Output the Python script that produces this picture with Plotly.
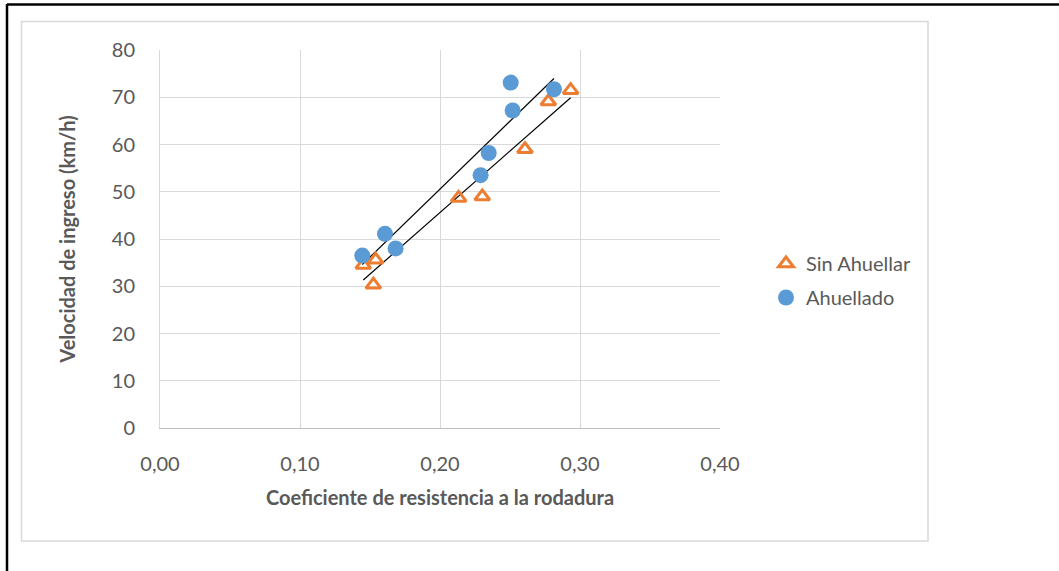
import numpy as np
import plotly.graph_objects as go

# Data
sin_x = [0.1452, 0.1540, 0.1524, 0.2133, 0.2302, 0.2607, 0.2774, 0.2933]
sin_y = [34.5, 35.6, 30.3, 48.7, 49.0, 59.0, 69.1, 71.5]
ahu_x = [0.1445, 0.1607, 0.1683, 0.2290, 0.2348, 0.2505, 0.2519, 0.2814]
ahu_y = [36.5, 41.1, 38.0, 53.5, 58.2, 73.1, 67.2, 71.7]

x_ticks = [0.0, 0.1, 0.2, 0.3, 0.4]
y_ticks = [0, 10, 20, 30, 40, 50, 60, 70, 80]

ORANGE = "#ED7D31"
BLUE = "#5B9BD5"
FONT = "Lato"
TXT = "#595959"

fig = go.Figure()

def trend(xs, ys):
    m, b = np.polyfit(xs, ys, 1)
    x0, x1 = min(xs), max(xs)
    return [x0, x1], [m * x0 + b, m * x1 + b]

tx, ty = trend(ahu_x, ahu_y)
fig.add_trace(go.Scatter(x=tx, y=ty, mode="lines", line=dict(color="black", width=1.2),
                         showlegend=False, hoverinfo="skip"))
tx, ty = trend(sin_x, sin_y)
fig.add_trace(go.Scatter(x=tx, y=ty, mode="lines", line=dict(color="black", width=1.2),
                         showlegend=False, hoverinfo="skip"))

fig.add_trace(go.Scatter(x=sin_x, y=sin_y, mode="markers", name="Sin Ahuellar",
                         legendgroup="a",
                         marker=dict(symbol="triangle-up-open", size=13, color=ORANGE,
                                     line=dict(color=ORANGE, width=3))))
fig.add_trace(go.Scatter(x=ahu_x, y=ahu_y, mode="markers", name="Ahuellado",
                         legendgroup="b",
                         marker=dict(symbol="circle", size=16, color=BLUE,
                                     line=dict(width=0))))

L, R, T, B = 160, 720, 50, 428
W, H = 1059, 571

def px(x):
    return (x - L) / (R - L)

def py(y):
    return (B - y) / (B - T)

shapes = [
    # outer black frame (left and top)
    dict(type="line", xref="paper", yref="paper", x0=px(7), x1=px(7), y0=py(4), y1=py(600),
         line=dict(color="black", width=2.5)),
    dict(type="line", xref="paper", yref="paper", x0=px(7), x1=px(1100), y0=py(4.5), y1=py(4.5),
         line=dict(color="black", width=2.5)),
    # light chart frame
    dict(type="rect", xref="paper", yref="paper", x0=px(21.5), x1=px(928), y0=py(541), y1=py(21.5),
         line=dict(color="#D9D9D9", width=1.5), fillcolor="rgba(0,0,0,0)"),
]

fig.update_layout(
    width=W, height=H,
    margin=dict(l=L, r=W - R, t=T, b=H - B),
    paper_bgcolor="white", plot_bgcolor="white",
    separators=",.",
    font=dict(family=FONT, color=TXT),
    shapes=shapes,
    legend=dict(x=px(766), y=py(244), xanchor="left", yanchor="top",
                font=dict(family=FONT, size=20, color=TXT),
                bgcolor="rgba(0,0,0,0)", itemwidth=30, tracegroupgap=5),
    showlegend=True,
)

fig.update_xaxes(range=[0, 0.4], tickvals=x_ticks, tickformat=".2f",
                 showgrid=True, gridcolor="#D9D9D9", gridwidth=1,
                 zeroline=False, showline=True, linecolor="#BFBFBF", linewidth=1,
                 ticks="outside", ticklen=18, tickcolor="rgba(0,0,0,0)",
                 tickfont=dict(family=FONT, size=20, color=TXT),
                 title=dict(text="<b>Coeficiente de resistencia a la rodadura</b>",
                            font=dict(family=FONT, size=20, color=TXT), standoff=16))
fig.update_yaxes(range=[0, 80], tickvals=y_ticks,
                 showgrid=True, gridcolor="#D9D9D9", gridwidth=1,
                 zeroline=False, showline=True, linecolor="#D9D9D9", linewidth=1,
                 ticks="outside", ticklen=20, tickcolor="rgba(0,0,0,0)",
                 tickfont=dict(family=FONT, size=20, color=TXT),
                 title=dict(text="<b>Velocidad de ingreso (km/h)</b>",
                            font=dict(family=FONT, size=20, color=TXT), standoff=30))

fig.write_html("out.html")
